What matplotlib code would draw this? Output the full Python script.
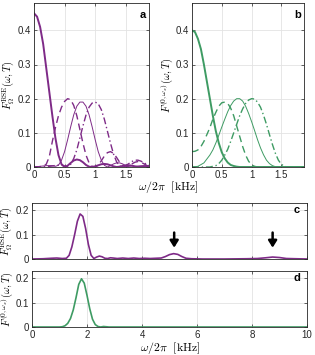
import matplotlib
matplotlib.use("Agg")
import matplotlib.pyplot as plt

plt.rcParams['font.family'] = ['Liberation Sans', 'DejaVu Sans']
plt.rcParams['mathtext.fontset'] = 'cm'

PURPLE = '#7E2A87'
GREEN = '#3E9B63'

# ---------------- Panel a (purple) ----------------
a_thick_x = [0, 0.05, 0.1, 0.15, 0.2, 0.25, 0.3, 0.35, 0.4, 0.45, 0.5, 0.55, 0.6, 0.65, 0.7, 0.75,
             0.8, 0.85, 0.9, 0.95, 1.0, 1.05, 1.1, 1.15, 1.2, 1.25, 1.3, 1.35, 1.4, 1.45, 1.5,
             1.55, 1.6, 1.65, 1.7, 1.75, 1.8, 1.85, 1.9]
a_thick_y = [0.45, 0.44, 0.41, 0.36, 0.29, 0.22, 0.15, 0.085, 0.035, 0.008, 0.0, 0.004, 0.012,
             0.019, 0.022, 0.02, 0.014, 0.006, 0.001, 0.0, 0.002, 0.005, 0.008, 0.009, 0.008,
             0.005, 0.002, 0.0, 0.001, 0.003, 0.005, 0.005, 0.004, 0.002, 0.0, 0.001, 0.002,
             0.003, 0.003]

a_dash_x = [0, 0.1, 0.15, 0.2, 0.25, 0.3, 0.35, 0.4, 0.45, 0.5, 0.55, 0.6, 0.65, 0.7, 0.75,
            0.8, 0.85, 0.9, 0.95, 1.0, 1.05, 1.1, 1.15, 1.2, 1.25, 1.3, 1.35, 1.4, 1.45, 1.5,
            1.55, 1.6, 1.65, 1.7, 1.75, 1.8, 1.85, 1.9]
a_dash_y = [0.0, 0.001, 0.003, 0.008, 0.03, 0.075, 0.115, 0.15, 0.175, 0.192, 0.2, 0.197,
            0.18, 0.15, 0.11, 0.07, 0.035, 0.012, 0.002, 0.0, 0.005, 0.018, 0.032, 0.042,
            0.045, 0.04, 0.028, 0.014, 0.004, 0.0, 0.003, 0.009, 0.014, 0.016, 0.014, 0.009,
            0.004, 0.001]

a_thin_x = [0, 0.1, 0.2, 0.3, 0.35, 0.4, 0.45, 0.5, 0.55, 0.6, 0.65, 0.7, 0.75, 0.8, 0.85,
            0.9, 0.95, 1.0, 1.05, 1.1, 1.15, 1.2, 1.25, 1.3, 1.35, 1.4, 1.45, 1.5, 1.55, 1.6,
            1.7, 1.8, 1.9]
a_thin_y = [0.0, 0.002, 0.004, 0.004, 0.002, 0.005, 0.02, 0.045, 0.08, 0.118, 0.153, 0.178,
            0.19, 0.19, 0.178, 0.153, 0.118, 0.08, 0.045, 0.02, 0.005, 0.0, 0.004, 0.009,
            0.012, 0.012, 0.009, 0.004, 0.001, 0.0, 0.003, 0.004, 0.002]

a_dd_x = [0, 0.2, 0.3, 0.4, 0.45, 0.5, 0.55, 0.6, 0.65, 0.7, 0.75, 0.8, 0.85, 0.9, 0.95, 1.0,
          1.05, 1.1, 1.15, 1.2, 1.25, 1.3, 1.35, 1.4, 1.45, 1.5, 1.55, 1.6, 1.65, 1.7, 1.75,
          1.8, 1.85, 1.9]
a_dd_y = [0.0, 0.001, 0.003, 0.006, 0.006, 0.003, 0.0, 0.008, 0.025, 0.05, 0.085, 0.12, 0.152,
          0.175, 0.187, 0.19, 0.185, 0.168, 0.14, 0.105, 0.07, 0.038, 0.015, 0.003, 0.0,
          0.004, 0.01, 0.016, 0.02, 0.02, 0.017, 0.012, 0.007, 0.003]

# ---------------- Panel b (green) ----------------
b_thick_x = [0, 0.05, 0.1, 0.15, 0.2, 0.25, 0.3, 0.35, 0.4, 0.45, 0.5, 0.55, 0.6, 0.65, 0.7,
             0.75, 0.8, 1.0, 1.5, 1.9]
b_thick_y = [0.40, 0.395, 0.375, 0.345, 0.30, 0.25, 0.2, 0.15, 0.105, 0.07, 0.043, 0.025,
             0.013, 0.006, 0.003, 0.001, 0.0, 0.0, 0.0, 0.0]

b_dash_x = [0, 0.05, 0.1, 0.15, 0.2, 0.25, 0.3, 0.35, 0.4, 0.45, 0.5, 0.55, 0.6, 0.65, 0.7,
            0.75, 0.8, 0.85, 0.9, 0.95, 1.0, 1.05, 1.1, 1.5, 1.9]
b_dash_y = [0.045, 0.046, 0.05, 0.06, 0.075, 0.095, 0.115, 0.14, 0.16, 0.178, 0.188, 0.19,
            0.186, 0.172, 0.15, 0.12, 0.09, 0.06, 0.035, 0.017, 0.006, 0.002, 0.0, 0.0, 0.0]

b_thin_x = [0, 0.1, 0.2, 0.3, 0.35, 0.4, 0.45, 0.5, 0.55, 0.6, 0.65, 0.7, 0.75, 0.8, 0.85, 0.9,
            0.95, 1.0, 1.05, 1.1, 1.15, 1.2, 1.25, 1.3, 1.35, 1.4, 1.45, 1.9]
b_thin_y = [0.0, 0.002, 0.012, 0.035, 0.05, 0.07, 0.093, 0.117, 0.14, 0.162, 0.18, 0.193, 0.2,
            0.2, 0.193, 0.178, 0.157, 0.133, 0.107, 0.08, 0.056, 0.036, 0.02, 0.01, 0.004,
            0.001, 0.0, 0.0]

b_dd_x = [0, 0.3, 0.4, 0.45, 0.5, 0.55, 0.6, 0.65, 0.7, 0.75, 0.8, 0.85, 0.9, 0.95, 1.0, 1.05,
          1.1, 1.15, 1.2, 1.25, 1.3, 1.35, 1.4, 1.45, 1.5, 1.55, 1.6, 1.9]
b_dd_y = [0.0, 0.0, 0.004, 0.01, 0.02, 0.035, 0.052, 0.075, 0.1, 0.125, 0.15, 0.17, 0.186,
          0.196, 0.2, 0.199, 0.19, 0.175, 0.152, 0.125, 0.095, 0.066, 0.04, 0.02, 0.008,
          0.002, 0.0, 0.0]

# ---------------- Panel c (purple) ----------------
c_x = [0, 0.4, 0.7, 0.9, 1.1, 1.25, 1.35, 1.45, 1.55, 1.65, 1.75, 1.85, 1.95, 2.05, 2.15, 2.25,
       2.35, 2.45, 2.55, 2.65, 2.75, 2.85, 2.95, 3.1, 3.3, 3.5, 3.7, 3.9, 4.1, 4.3, 4.5, 4.7,
       4.85, 5.0, 5.15, 5.3, 5.45, 5.6, 5.8, 6.2, 7.0, 7.8, 8.2, 8.5, 8.75, 9.0, 9.25, 9.6, 10]
c_y = [0.0, 0.001, 0.003, 0.004, 0.002, 0.003, 0.015, 0.05, 0.1, 0.155, 0.185, 0.175, 0.125,
       0.06, 0.015, 0.002, 0.008, 0.012, 0.009, 0.003, 0.002, 0.005, 0.004, 0.002, 0.004,
       0.002, 0.004, 0.002, 0.003, 0.002, 0.003, 0.004, 0.01, 0.018, 0.022, 0.019, 0.01,
       0.003, 0.001, 0.0, 0.0, 0.001, 0.002, 0.005, 0.008, 0.006, 0.002, 0.001, 0.0]
arrow_x = [5.17, 8.75]

# ---------------- Panel d (green) ----------------
d_x = [0, 1.0, 1.1, 1.2, 1.3, 1.4, 1.5, 1.6, 1.7, 1.8, 1.9, 2.0, 2.1, 2.2, 2.3, 2.4, 2.5, 2.6,
       2.7, 2.8, 10]
d_y = [0.0, 0.0, 0.001, 0.005, 0.015, 0.035, 0.07, 0.12, 0.175, 0.198, 0.18, 0.13, 0.075,
       0.032, 0.01, 0.002, 0.0, 0.002, 0.001, 0.0, 0.0]

W, H = 315, 355
fig = plt.figure(figsize=(W / 100, H / 100), dpi=100)


def rect(l, t, r, b):
    return [l / W, 1 - b / H, (r - l) / W, (b - t) / H]


def style(ax):
    ax.grid(True, color='#e3e3e3', linewidth=0.6)
    ax.set_axisbelow(True)
    ax.tick_params(direction='in', length=2.5, width=0.5, labelsize=7, pad=2,
                   top=True, right=True, colors='#262626')
    for s in ax.spines.values():
        s.set_linewidth(0.6)
        s.set_color('#262626')


axa = fig.add_axes(rect(34, 3, 149, 167))
axb = fig.add_axes(rect(192, 3, 304, 167))
axc = fig.add_axes(rect(32, 203, 307, 259))
axd = fig.add_axes(rect(32, 271, 307, 327))

axa.plot(a_thick_x, a_thick_y, color=PURPLE, lw=1.4)
axa.plot(a_dash_x, a_dash_y, color=PURPLE, lw=1.0, ls=(0, (5, 3)))
axa.plot(a_thin_x, a_thin_y, color=PURPLE, lw=0.7)
axa.plot(a_dd_x, a_dd_y, color=PURPLE, lw=1.0, ls=(0, (5, 2, 1, 2)))

axb.plot(b_thick_x, b_thick_y, color=GREEN, lw=1.4)
axb.plot(b_dash_x, b_dash_y, color=GREEN, lw=1.0, ls=(0, (5, 3)))
axb.plot(b_thin_x, b_thin_y, color=GREEN, lw=0.7)
axb.plot(b_dd_x, b_dd_y, color=GREEN, lw=1.0, ls=(0, (5, 2, 1, 2)))

for ax in (axa, axb):
    ax.set_xlim(0, 1.88)
    ax.set_ylim(0, 0.48)
    ax.set_xticks([0, 0.5, 1, 1.5])
    ax.set_xticklabels(['0', '0.5', '1', '1.5'])
    ax.set_yticks([0, 0.1, 0.2, 0.3, 0.4])
    ax.set_yticklabels(['0', '0.1', '0.2', '0.3', '0.4'])
    style(ax)

axc.plot(c_x, c_y, color=PURPLE, lw=1.2)
for xa in arrow_x:
    axc.annotate('', xy=(xa, 0.035), xytext=(xa, 0.12),
                 arrowprops=dict(arrowstyle='-|>,head_width=0.25,head_length=0.4',
                                 color='black', lw=1.8))
axd.plot(d_x, d_y, color=GREEN, lw=1.2)

for ax in (axc, axd):
    ax.set_xlim(0, 10)
    ax.set_ylim(0, 0.23)
    ax.set_xticks([0, 2, 4, 6, 8, 10])
    ax.set_yticks([0, 0.1, 0.2])
    ax.set_yticklabels(['0', '0.1', '0.2'])
    style(ax)
axc.set_xticklabels([])
axd.set_xticklabels(['0', '2', '4', '6', '8', '10'])

for ax, lab in ((axa, 'a'), (axb, 'b'), (axc, 'c'), (axd, 'd')):
    ax.text(0.975, 0.96, lab, transform=ax.transAxes, ha='right', va='top',
            fontsize=8, fontweight='bold')

ylab_a = r'$F^{\mathrm{RSE}}_{\Omega}(\omega,T)$'
ylab_b = r'$F^{(0,\omega_x)}(\omega,T)$'
axa.set_ylabel(ylab_a, fontsize=7.5, labelpad=0.5)
axb.set_ylabel(ylab_b, fontsize=7.5, labelpad=0.5)
axc.set_ylabel(ylab_a, fontsize=7.5, labelpad=0.5)
axd.set_ylabel(ylab_b, fontsize=7.5, labelpad=0.5)

xlab = r'$\omega/2\pi\ \ [\mathrm{kHz}]$'
fig.text(168 / W, 1 - 187 / H, xlab, ha='center', va='center', fontsize=8.5)
fig.text(170 / W, 1 - 348 / H, xlab, ha='center', va='center', fontsize=8.5)

fig.savefig('out.png', dpi=100)
